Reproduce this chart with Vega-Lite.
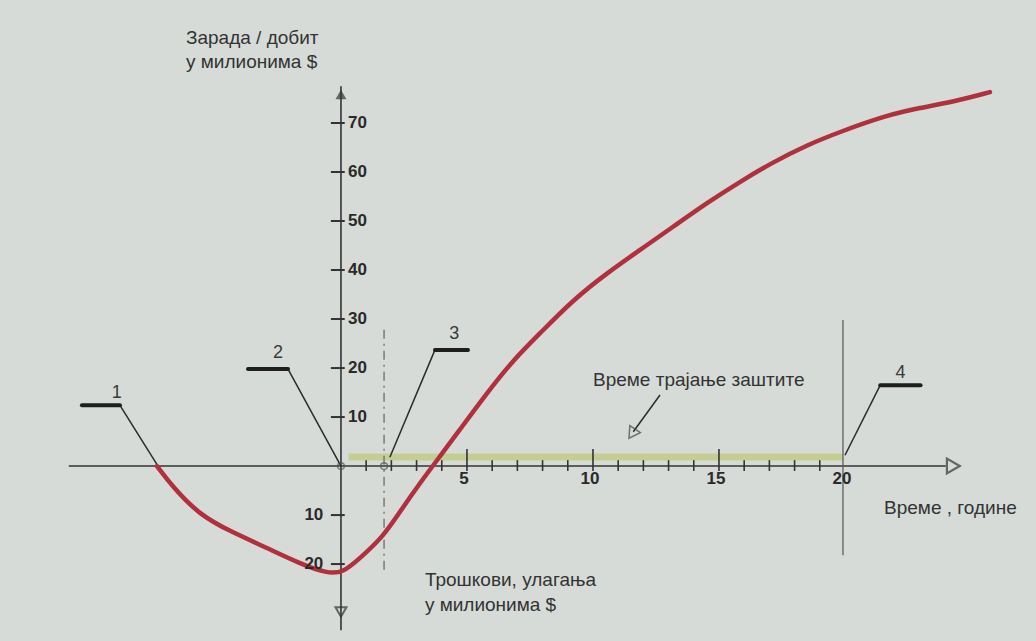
{
  "$schema": "https://vega.github.io/schema/vega-lite/v6.json",
  "width": 1036,
  "height": 641,
  "autosize": {"type": "fit", "contains": "padding"},
  "padding": 0,
  "background": "#d6dbd7",
  "config": {"view": {"stroke": null}},
  "datasets": {
    "curve": [
      {"x": -7.3, "y": 0}, {"x": -6.67, "y": -4.3}, {"x": -5.6, "y": -10.0}, {"x": -4.4, "y": -13.3},
      {"x": -2.94, "y": -16.7}, {"x": -1.63, "y": -19.9}, {"x": -0.56, "y": -21.9}, {"x": 0.08, "y": -21.8},
      {"x": 0.75, "y": -18.8}, {"x": 1.67, "y": -14.5}, {"x": 2.46, "y": -8.4}, {"x": 3.13, "y": -3.5},
      {"x": 3.93, "y": 2.0}, {"x": 4.6, "y": 6.6}, {"x": 5.79, "y": 14.9}, {"x": 6.83, "y": 21.6},
      {"x": 7.9, "y": 27.1}, {"x": 9.21, "y": 33.9}, {"x": 10.56, "y": 39.4}, {"x": 11.87, "y": 44.1},
      {"x": 13.17, "y": 48.8}, {"x": 14.52, "y": 53.7}, {"x": 15.83, "y": 58.0}, {"x": 17.14, "y": 62.0},
      {"x": 18.49, "y": 65.5}, {"x": 19.8, "y": 68.2}, {"x": 21.67, "y": 71.6}, {"x": 22.98, "y": 73.1},
      {"x": 24.29, "y": 74.3}, {"x": 25.75, "y": 76.3}
    ],
    "band": [{"x": 0.3, "x2": 19.9, "y": 1.84}],
    "axes": [
      {"x": -10.8, "y": 0, "x2": 24.0, "y2": 0},
      {"x": 0, "y": -33.5, "x2": 0, "y2": 77.5}
    ],
    "minorTicks": [
      {"x": 1}, {"x": 2}, {"x": 3}, {"x": 4}, {"x": 6}, {"x": 7}, {"x": 8}, {"x": 9},
      {"x": 11}, {"x": 12}, {"x": 13}, {"x": 14}, {"x": 16}, {"x": 17}, {"x": 18}, {"x": 19}
    ],
    "majorTicks": [{"x": 5}, {"x": 10}, {"x": 15}],
    "yTicks": [
      {"y": 10}, {"y": 20}, {"y": 30}, {"y": 40}, {"y": 50}, {"y": 60}, {"y": 70}, {"y": -10}, {"y": -20}
    ],
    "posLabels": [
      {"y": 10, "t": "10"}, {"y": 20, "t": "20"}, {"y": 30, "t": "30"}, {"y": 40, "t": "40"},
      {"y": 50, "t": "50"}, {"y": 60, "t": "60"}, {"y": 70, "t": "70"}
    ],
    "negLabels": [{"y": -10, "t": "10"}, {"y": -20, "t": "20"}],
    "xLabels": [{"x": 5, "t": "5"}, {"x": 10, "t": "10"}, {"x": 15, "t": "15"}, {"x": 20, "t": "20"}],
    "dashed": [{"x": 1.71, "y": 27.8, "y2": -21.2}],
    "solidV": [{"x": 19.92, "y": 29.8, "y2": -18.2}],
    "leaders": [
      {"x": -8.77, "y": 12.4, "x2": -7.26, "y2": 0},
      {"x": -2.1, "y": 19.8, "x2": 0, "y2": 0},
      {"x": 3.73, "y": 23.7, "x2": 1.94, "y2": 1.8},
      {"x": 21.4, "y": 16.5, "x2": 20.0, "y2": 2.2},
      {"x": 12.66, "y": 14.5, "x2": 11.6, "y2": 7.0}
    ],
    "bars": [
      {"x": -10.28, "x2": -8.77, "y": 12.4},
      {"x": -3.69, "x2": -2.1, "y": 19.8},
      {"x": 3.73, "x2": 5.04, "y": 23.7},
      {"x": 21.4, "x2": 23.0, "y": 16.5}
    ],
    "numbers": [
      {"x": -8.9, "y": 14.9, "t": "1"},
      {"x": -2.5, "y": 23.0, "t": "2"},
      {"x": 4.5, "y": 27.0, "t": "3"},
      {"x": 22.2, "y": 19.0, "t": "4"}
    ],
    "circles": [{"x": 0, "y": 0}, {"x": 1.71, "y": 0}],
    "texts": [
      {"x": -6.15, "y": 87.3, "t": "Зарада / добит"},
      {"x": -6.15, "y": 82.4, "t": "у милионима $"},
      {"x": 10.0, "y": 17.55, "t": "Време трајање заштите"},
      {"x": 21.55, "y": -8.57, "t": "Време , године"},
      {"x": 3.33, "y": -23.3, "t": "Трошкови, улагања"},
      {"x": 3.33, "y": -28.4, "t": "у милионима $"}
    ]
  },
  "layer": [
    {
      "data": {"name": "band"},
      "mark": {"type": "rule", "color": "#c3cd8e", "strokeWidth": 7, "opacity": 0.95},
      "encoding": {
        "x": {"field": "x", "type": "quantitative", "scale": {"domain": [-13.53, 27.58], "nice": false, "zero": false}, "axis": null},
        "x2": {"field": "x2"},
        "y": {"field": "y", "type": "quantitative", "scale": {"domain": [-35.7, 95.1], "nice": false, "zero": false}, "axis": null}
      }
    },
    {
      "data": {"name": "axes"},
      "mark": {"type": "rule", "color": "#333333", "strokeWidth": 1.6},
      "encoding": {
        "x": {"field": "x", "type": "quantitative"},
        "x2": {"field": "x2"},
        "y": {"field": "y", "type": "quantitative"},
        "y2": {"field": "y2"}
      }
    },
    {
      "data": {"name": "minorTicks"},
      "mark": {"type": "rule", "color": "#333333", "strokeWidth": 1.6},
      "encoding": {
        "x": {"field": "x", "type": "quantitative"},
        "y": {"datum": -1.0, "type": "quantitative"},
        "y2": {"datum": 1.2}
      }
    },
    {
      "data": {"name": "majorTicks"},
      "mark": {"type": "rule", "color": "#333333", "strokeWidth": 1.6},
      "encoding": {
        "x": {"field": "x", "type": "quantitative"},
        "y": {"datum": -1.0, "type": "quantitative"},
        "y2": {"datum": 3.5}
      }
    },
    {
      "data": {"name": "yTicks"},
      "mark": {"type": "rule", "color": "#333333", "strokeWidth": 2},
      "encoding": {
        "x": {"datum": -0.4, "type": "quantitative"},
        "x2": {"datum": 0.15},
        "y": {"field": "y", "type": "quantitative"}
      }
    },
    {
      "data": {"name": "dashed"},
      "mark": {"type": "rule", "color": "#7a7a7a", "strokeWidth": 1.5, "strokeDash": [9, 5, 2, 5]},
      "encoding": {
        "x": {"field": "x", "type": "quantitative"},
        "y": {"field": "y", "type": "quantitative"},
        "y2": {"field": "y2"}
      }
    },
    {
      "data": {"name": "solidV"},
      "mark": {"type": "rule", "color": "#555555", "strokeWidth": 1.2},
      "encoding": {
        "x": {"field": "x", "type": "quantitative"},
        "y": {"field": "y", "type": "quantitative"},
        "y2": {"field": "y2"}
      }
    },
    {
      "data": {"name": "leaders"},
      "mark": {"type": "rule", "color": "#2b2b2b", "strokeWidth": 1.5},
      "encoding": {
        "x": {"field": "x", "type": "quantitative"},
        "x2": {"field": "x2"},
        "y": {"field": "y", "type": "quantitative"},
        "y2": {"field": "y2"}
      }
    },
    {
      "data": {"name": "bars"},
      "mark": {"type": "rule", "color": "#1e1e1e", "strokeWidth": 4, "strokeCap": "round"},
      "encoding": {
        "x": {"field": "x", "type": "quantitative"},
        "x2": {"field": "x2"},
        "y": {"field": "y", "type": "quantitative"}
      }
    },
    {
      "data": {"name": "circles"},
      "mark": {"type": "point", "shape": "circle", "filled": false, "size": 45, "stroke": "#555555", "strokeWidth": 1.5},
      "encoding": {
        "x": {"field": "x", "type": "quantitative"},
        "y": {"field": "y", "type": "quantitative"}
      }
    },
    {
      "data": {"values": [{"x": 24.3, "y": 0}]},
      "mark": {"type": "point", "shape": "triangle-right", "filled": false, "size": 220, "stroke": "#333333", "strokeWidth": 2.2},
      "encoding": {
        "x": {"field": "x", "type": "quantitative"},
        "y": {"field": "y", "type": "quantitative"}
      }
    },
    {
      "data": {"values": [{"x": 0, "y": 75.8}]},
      "mark": {"type": "point", "shape": "triangle-up", "filled": true, "size": 120, "color": "#333333"},
      "encoding": {
        "x": {"field": "x", "type": "quantitative"},
        "y": {"field": "y", "type": "quantitative"}
      }
    },
    {
      "data": {"values": [{"x": 0, "y": -29.8}]},
      "mark": {"type": "point", "shape": "triangle-down", "filled": false, "size": 120, "stroke": "#333333", "strokeWidth": 2},
      "encoding": {
        "x": {"field": "x", "type": "quantitative"},
        "y": {"field": "y", "type": "quantitative"}
      }
    },
    {
      "data": {"values": [{"x": 11.55, "y": 6.6}]},
      "mark": {"type": "point", "shape": "triangle-down", "filled": false, "size": 160, "stroke": "#444444", "strokeWidth": 1.5, "angle": 34},
      "encoding": {
        "x": {"field": "x", "type": "quantitative"},
        "y": {"field": "y", "type": "quantitative"}
      }
    },
    {
      "data": {"name": "curve"},
      "mark": {"type": "line", "color": "#b0303e", "strokeWidth": 4.5, "interpolate": "basis", "strokeCap": "round"},
      "encoding": {
        "x": {"field": "x", "type": "quantitative"},
        "y": {"field": "y", "type": "quantitative"}
      }
    },
    {
      "data": {"name": "posLabels"},
      "mark": {"type": "text", "align": "left", "baseline": "middle", "font": "Liberation Sans Narrow, Liberation Sans", "fontSize": 17, "fontWeight": "bold", "color": "#2a2a2a"},
      "encoding": {
        "x": {"datum": 0.28, "type": "quantitative"},
        "y": {"field": "y", "type": "quantitative"},
        "text": {"field": "t"}
      }
    },
    {
      "data": {"name": "negLabels"},
      "mark": {"type": "text", "align": "right", "baseline": "middle", "font": "Liberation Sans Narrow, Liberation Sans", "fontSize": 17, "fontWeight": "bold", "color": "#2a2a2a"},
      "encoding": {
        "x": {"datum": -0.7, "type": "quantitative"},
        "y": {"field": "y", "type": "quantitative"},
        "text": {"field": "t"}
      }
    },
    {
      "data": {"name": "xLabels"},
      "mark": {"type": "text", "align": "center", "baseline": "middle", "dx": -3, "font": "Liberation Sans Narrow, Liberation Sans", "fontSize": 17, "fontWeight": "bold", "color": "#2a2a2a"},
      "encoding": {
        "x": {"field": "x", "type": "quantitative"},
        "y": {"datum": -2.6, "type": "quantitative"},
        "text": {"field": "t"}
      }
    },
    {
      "data": {"name": "numbers"},
      "mark": {"type": "text", "align": "center", "baseline": "middle", "font": "Liberation Sans", "fontSize": 18, "color": "#3a3a3a"},
      "encoding": {
        "x": {"field": "x", "type": "quantitative"},
        "y": {"field": "y", "type": "quantitative"},
        "text": {"field": "t"}
      }
    },
    {
      "data": {"name": "texts"},
      "mark": {"type": "text", "align": "left", "baseline": "middle", "font": "Liberation Sans", "fontSize": 19, "color": "#333333"},
      "encoding": {
        "x": {"field": "x", "type": "quantitative"},
        "y": {"field": "y", "type": "quantitative"},
        "text": {"field": "t"}
      }
    }
  ]
}
